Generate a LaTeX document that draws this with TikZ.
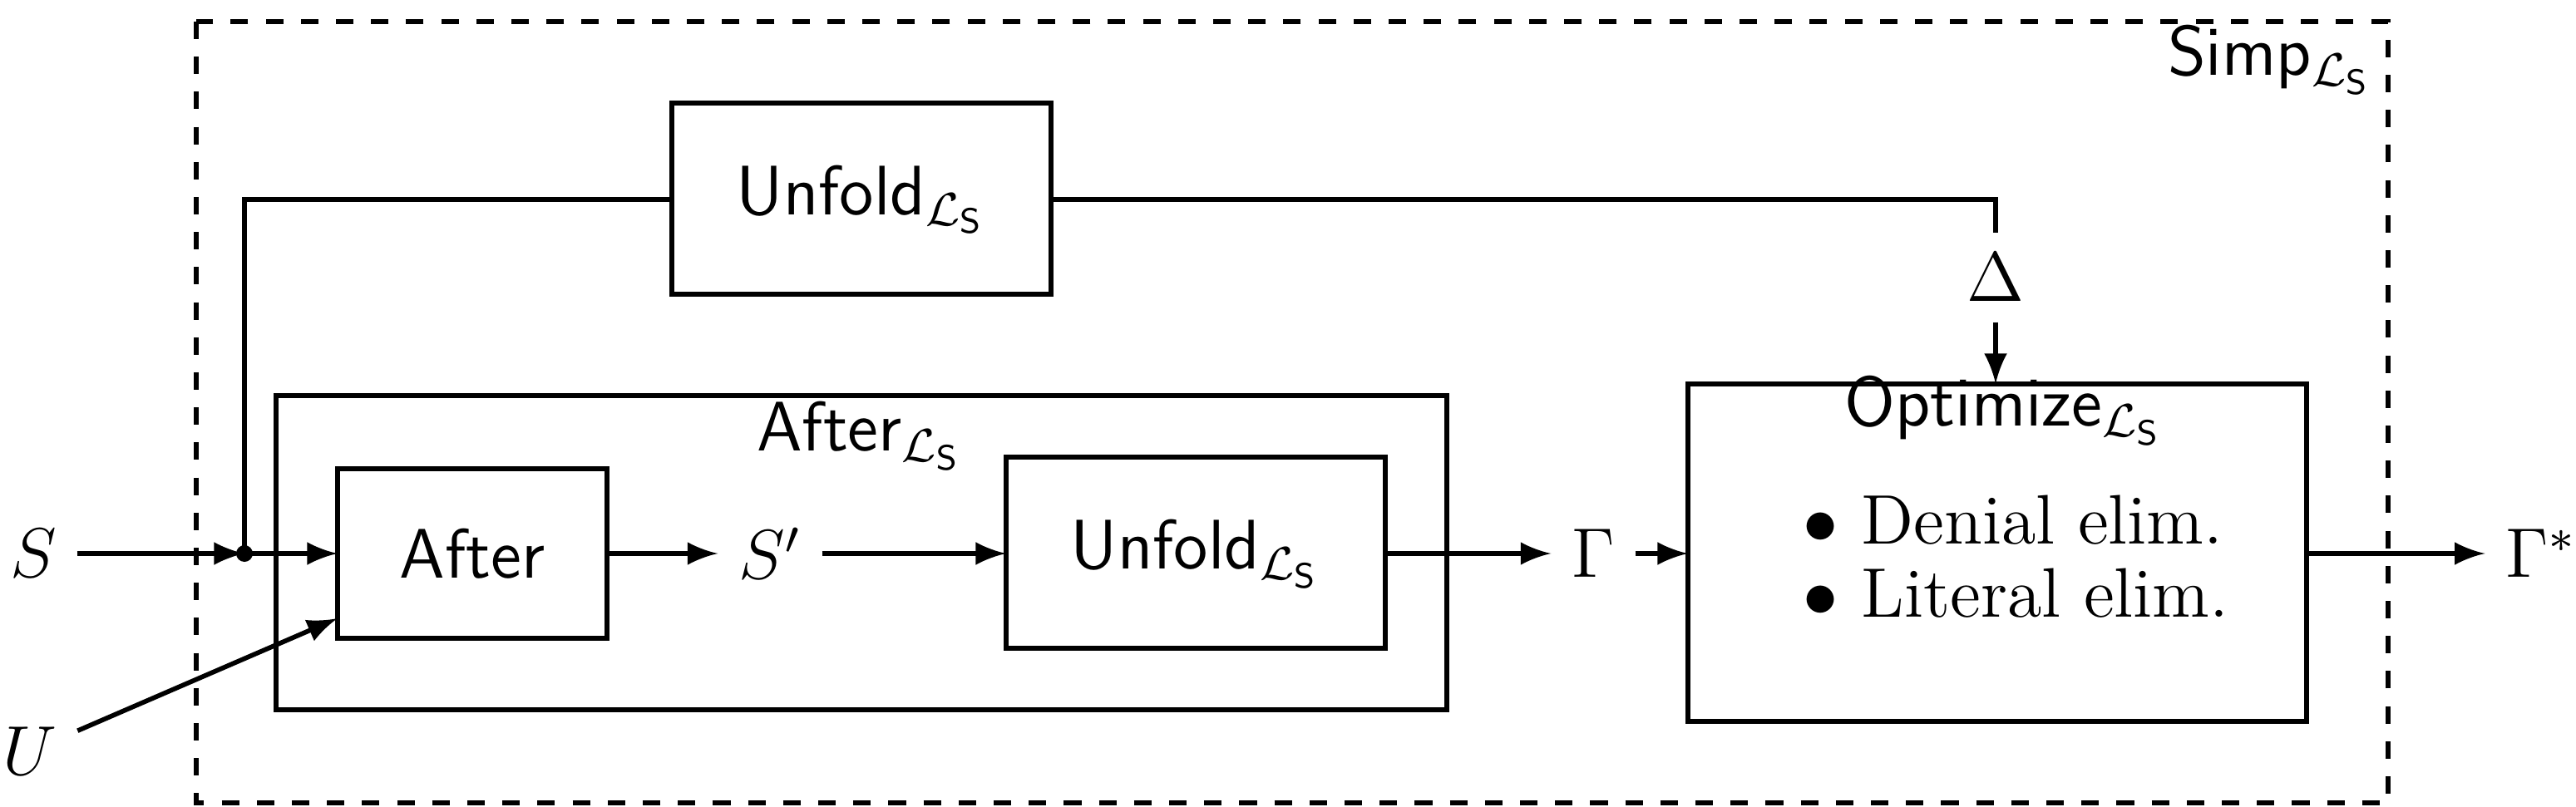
\documentclass[tikz,border=0pt]{standalone}
\usepackage{amsmath, amssymb}
\usepackage{tikz}
\begin{document}
\begin{tikzpicture}[x=0.01cm, y=-0.01cm, font=\large, >=latex,
  lbl/.style={font=\large\sffamily},
  sym/.style={font=\large}]
\useasboundingbox (0,0) rectangle (1549,485);
% outer dashed frame
\draw[thick, dashed] (118,13) rectangle (1436,483);
\node[lbl] (simp) at (1365,36) {Simp$_{\mathcal{L}_{\mathsf{S}}}$};

% boxes
\draw[thick] (404,62) rectangle (632,177);
\node[lbl] (unfoldtop) at (518,120) {Unfold$_{\mathcal{L}_{\mathsf{S}}}$};
\draw[thick] (166,238) rectangle (870,427);
\node[lbl] (afterls) at (517,262) {After$_{\mathcal{L}_{\mathsf{S}}}$};
\draw[thick] (203,282) rectangle (365,384);
\node[lbl] (after) at (284,333) {After};
\draw[thick] (605,275) rectangle (833,390);
\node[lbl] (unfoldin) at (719,333) {Unfold$_{\mathcal{L}_{\mathsf{S}}}$};
\draw[thick] (1015,231) rectangle (1387,434);
\node[lbl] (opt) at (1205,247) {Optimize$_{\mathcal{L}_{\mathsf{S}}}$};
\node[anchor=west, sym] (den) at (1072,313) {$\bullet$ Denial elim.};
\node[anchor=west, sym] (lit) at (1072,357) {$\bullet$ Literal elim.};

% symbols
\node[sym] (s) at (20,333) {$S$};
\node[sym] (u) at (18,452) {$U$};
\node[sym] (sp) at (463,333) {$S'$};
\node[sym] (g) at (958,333) {$\Gamma$};
\node[sym] (gs) at (1528,333) {$\Gamma^*$};
\node[sym] (d) at (1200,167) {$\Delta$};
\coordinate (j) at (147,333);

% connectors
\draw[thick, ->] (s) -- (j);
\fill (j) circle (5);
\draw[thick, ->] (j) -- (203,333);
\draw[thick] (j) -- (147,120) -- (404,120);
\draw[thick] (632,120) -- (1200,120) -- (d);
\draw[thick, ->] (d) -- (1200,231);
\draw[thick, ->] (u) -- (203,372);
\draw[thick, ->] (365,333) -- (sp);
\draw[thick, ->] (sp) -- (605,333);
\draw[thick, ->] (833,333) -- (g);
\draw[thick, ->] (g) -- (1015,333);
\draw[thick, ->] (1387,333) -- (gs);
\end{tikzpicture}
\end{document}
